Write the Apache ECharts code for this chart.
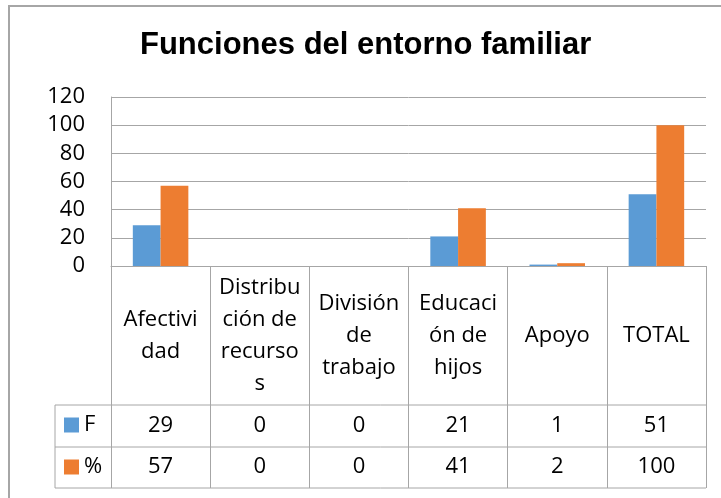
<!DOCTYPE html>
<html>
<head>
<meta charset="utf-8">
<script src="https://cdn.jsdelivr.net/npm/echarts@6/dist/echarts.min.js"></script>
<style>
  html, body { margin: 0; padding: 0; background: #fff; }
  #chart { width: 721px; height: 498px; }
</style>
</head>
<body>
<div id="chart"></div>
<script>
// categories as they wrap in the data table
const categories = ['Afectivi\ndad', 'Distribu\nción de\nrecurso\ns', 'División\nde\ntrabajo', 'Educaci\nón de\nhijos', 'Apoyo', 'TOTAL']
const fValues = [29, 0, 0, 21, 1, 51]
const pctValues = [57, 0, 0, 41, 2, 100]
const yTicks = [0, 20, 40, 60, 80, 100, 120]

const lineColor = '#a6a6a6'
const tableFont = 'Open Sans'

const chart = echarts.init(document.getElementById('chart'))

// table rows drawn under the plot
const tableRows = [
  { name: 'F', values: fValues, margin: 160 },
  { name: '%', values: pctValues, margin: 201 }
]

chart.setOption({
  animation: false,
  title: {
    text: 'Funciones del entorno familiar',
    left: 140,
    top: 30,
    padding: 0,
    textStyle: {
      fontFamily: 'Liberation Sans',
      fontWeight: 'bold',
      fontSize: 31,
      color: '#000'
    }
  },
  legend: {
    orient: 'vertical',
    left: 64,
    top: 414,
    padding: 0,
    itemGap: 20,
    itemWidth: 15,
    itemHeight: 15,
    icon: 'rect',
    textStyle: { fontFamily: tableFont, fontSize: 22, lineHeight: 22, color: '#000' },
    data: ['F', '%']
  },
  grid: {
    left: 111,
    right: 15,
    top: 97,
    bottom: 232,
    outerBoundsMode: 'none'
  },
  xAxis: [
    {
      type: 'category',
      data: categories,
      position: 'bottom',
      axisLine: { lineStyle: { color: lineColor } },
      axisTick: { show: true, length: 222, lineStyle: { color: lineColor } },
      axisLabel: {
        interval: 0,
        margin: 70,
        verticalAlign: 'middle',
        fontFamily: tableFont,
        fontSize: 22,
        lineHeight: 32,
        color: '#000'
      }
    }
  ].concat(tableRows.map(r => ({
    type: 'category',
    data: categories,
    position: 'bottom',
    axisLine: { show: false },
    axisTick: { show: false },
    axisLabel: {
      interval: 0,
      margin: r.margin,
      verticalAlign: 'middle',
      fontFamily: tableFont,
      fontSize: 22,
      color: '#000',
      formatter: (v, i) => String(r.values[i])
    }
  }))),
  yAxis: {
    type: 'value',
    min: yTicks[0],
    max: yTicks[yTicks.length - 1],
    interval: 20,
    axisLine: { show: true, lineStyle: { color: lineColor } },
    axisTick: { show: false },
    splitLine: { lineStyle: { color: lineColor } },
    axisLabel: {
      margin: 26,
      fontFamily: tableFont,
      fontSize: 22,
      color: '#000'
    }
  },
  series: [
    {
      name: 'F',
      type: 'bar',
      data: fValues,
      barCategoryGap: '44%',
      barGap: '0%',
      itemStyle: { color: '#5b9bd5' }
    },
    {
      name: '%',
      type: 'bar',
      data: pctValues,
      itemStyle: { color: '#ed7d31' }
    }
  ],
  graphic: [
    // chart area border
    { type: 'rect', shape: { x: 9, y: 6, width: 740, height: 520 }, style: { fill: 'none', stroke: lineColor, lineWidth: 2 }, silent: true },
    // data table lines around the legend column
    { type: 'line', shape: { x1: 55, y1: 405, x2: 706, y2: 405 }, style: { stroke: lineColor, lineWidth: 1 } },
    { type: 'line', shape: { x1: 55, y1: 447, x2: 706, y2: 447 }, style: { stroke: lineColor, lineWidth: 1 } },
    { type: 'line', shape: { x1: 55, y1: 488, x2: 706, y2: 488 }, style: { stroke: lineColor, lineWidth: 1 } },
    { type: 'line', shape: { x1: 55, y1: 405, x2: 55, y2: 488 }, style: { stroke: lineColor, lineWidth: 1 } }
  ]
})
</script>
</body>
</html>
